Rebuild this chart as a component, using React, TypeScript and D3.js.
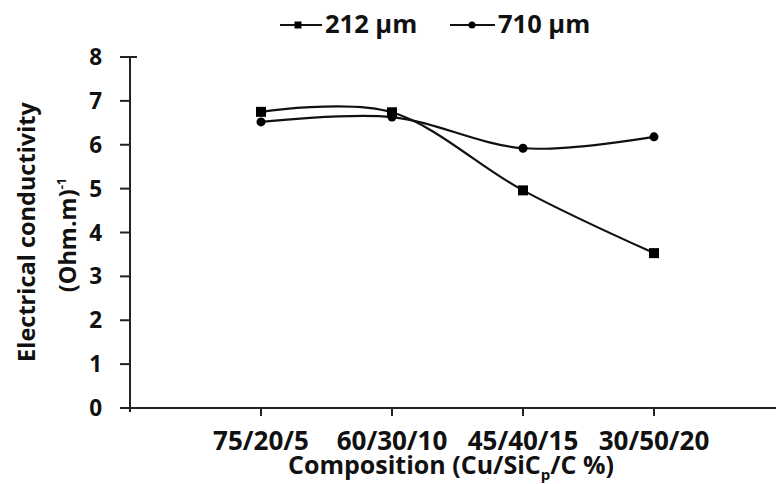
import React from "react";
import * as d3 from "d3";

const categories = ["75/20/5", "60/30/10", "45/40/15", "30/50/20"];
const series212 = [6.75, 6.74, 4.96, 3.53];
const series710 = [6.52, 6.63, 5.92, 6.18];
const yTicks = [0, 1, 2, 3, 4, 5, 6, 7, 8];
const seriesNames = ["212 µm", "710 µm"];

const W = 776;
const H = 484;
const FONT = "'Open Sans', 'DejaVu Sans', sans-serif";

export default function App() {
  const x = d3.scaleLinear().domain([0, 5]).range([130, 785]);
  const y = d3.scaleLinear().domain([0, 8]).range([408, 57]);
  const line = d3
    .line<number>()
    .x((_, i) => x(i + 1))
    .y((d) => y(d))
    .curve(d3.curveCardinal.tension(0));

  return (
    <svg
      width={W}
      height={H}
      style={{ position: "absolute", left: 0, top: 0, background: "#fff" }}
      fontFamily={FONT}
    >
      {/* y axis */}
      <line x1={130} x2={130} y1={y(8)} y2={y(0) + 4} stroke="#222" strokeWidth={2} />
      <line x1={130} x2={137} y1={y(8)} y2={y(8)} stroke="#222" strokeWidth={2} />
      {yTicks.map((t) => (
        <g key={t}>
          <line x1={120} x2={130} y1={y(t)} y2={y(t)} stroke="#222" strokeWidth={2} />
          <text
            x={102}
            y={y(t)}
            dy="0.36em"
            textAnchor="end"
            fontSize={22.5}
            fontWeight="bold"
            fill="#111"
          >
            {t}
          </text>
        </g>
      ))}
      {/* x axis */}
      <line x1={120} x2={W} y1={y(0)} y2={y(0)} stroke="#222" strokeWidth={2} />
      {categories.map((c, i) => (
        <g key={c}>
          <line x1={x(i + 1)} x2={x(i + 1)} y1={y(0)} y2={y(0) + 8} stroke="#222" strokeWidth={2} />
          <text
            x={x(i + 1)}
            y={450}
            textAnchor="middle"
            fontSize={26}
            fontWeight="bold"
            fill="#111"
          >
            {c}
          </text>
        </g>
      ))}
      <text x={451} y={474} textAnchor="middle" fontSize={25} fontWeight="bold" fill="#111">
        Composition (Cu/SiC
        <tspan fontSize={15} dy={6}>p</tspan>
        <tspan dy={-6}>/C %)</tspan>
      </text>
      {/* y title */}
      <text
        transform={`translate(35,232) rotate(-90)`}
        textAnchor="middle"
        fontSize={23.5}
        fontWeight="bold"
        fill="#111"
      >
        Electrical conductivity
      </text>
      <text
        transform={`translate(76,235) rotate(-90)`}
        textAnchor="middle"
        fontSize={23.5}
        fontWeight="bold"
        fill="#111"
      >
        (Ohm.m)
        <tspan fontSize={13} dy={-10}>-1</tspan>
      </text>
      {/* series */}
      <path d={line(series212) || ""} fill="none" stroke="#111" strokeWidth={2.2} />
      <path d={line(series710) || ""} fill="none" stroke="#111" strokeWidth={2.2} />
      {series212.map((v, i) => (
        <rect key={"s" + i} x={x(i + 1) - 5} y={y(v) - 5} width={10} height={10} fill="#000" />
      ))}
      {series710.map((v, i) => (
        <circle key={"c" + i} cx={x(i + 1)} cy={y(v)} r={4.5} fill="#000" />
      ))}
      {/* legend */}
      <line x1={280} x2={322} y1={25} y2={25} stroke="#111" strokeWidth={2.2} />
      <rect x={294.5} y={21.5} width={7} height={7} fill="#000" />
      <text x={325} y={33} fontSize={25.5} fontWeight="bold" fill="#111">
        {seriesNames[0]}
      </text>
      <line x1={450} x2={495} y1={25} y2={25} stroke="#111" strokeWidth={2.2} />
      <circle cx={472} cy={25} r={3.5} fill="#000" />
      <text x={498} y={33} fontSize={25.5} fontWeight="bold" fill="#111">
        {seriesNames[1]}
      </text>
    </svg>
  );
}
